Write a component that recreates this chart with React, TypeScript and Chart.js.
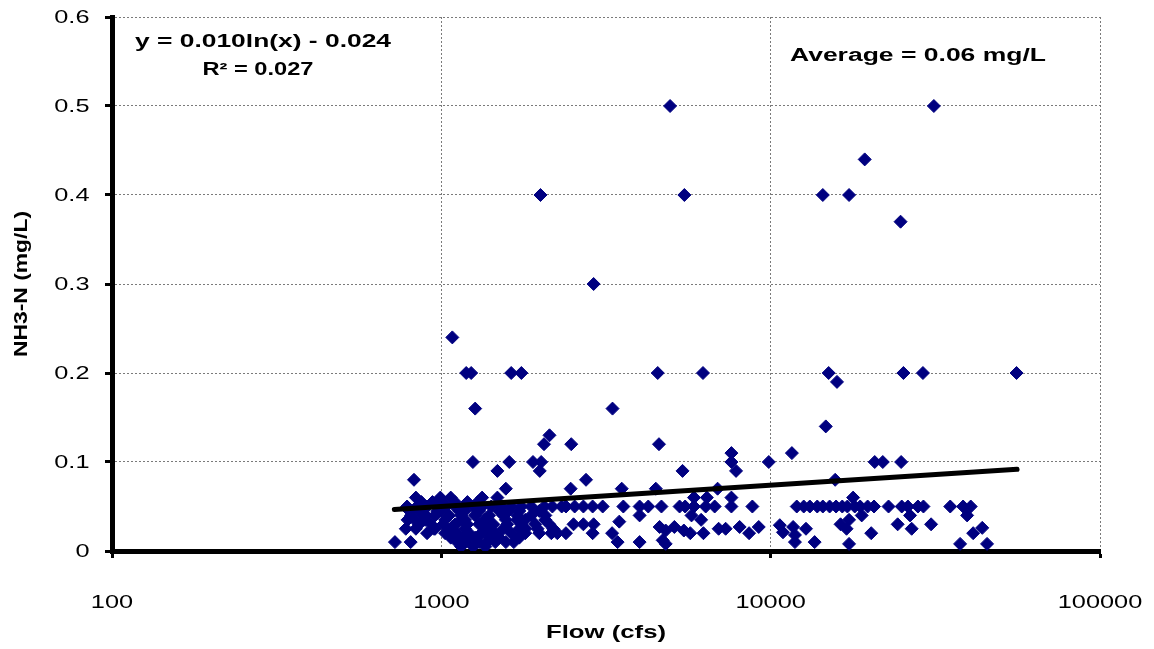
import React, { useEffect, useRef } from "react";
import { Chart, registerables } from "chart.js";

Chart.register(...registerables);

// ---------- data ----------
// high values (>= 0.24)
const flowsHigh = [4950, 31300, 19300, 2000, 5470, 14400, 17300, 24800, 2900, 1080];
const nh3High = [0.5, 0.5, 0.44, 0.4, 0.4, 0.4, 0.4, 0.37, 0.3, 0.24];

// 0.11 - 0.20
const flowsMid = [1190, 1232, 1630, 1750, 4540, 6230, 15000, 15900, 25300, 29000, 55800, 1267, 3310, 14700, 2130, 2050, 2480, 4580, 7600, 11600];
const nh3Mid = [0.2, 0.2, 0.2, 0.2, 0.2, 0.2, 0.2, 0.19, 0.2, 0.2, 0.2, 0.16, 0.16, 0.14, 0.13, 0.12, 0.12, 0.12, 0.11, 0.11];

// 0.07 - 0.10
const flowsUpperLow = [1247, 1608, 1898, 2010, 7600, 9870, 20700, 21900, 24900, 1480, 1990, 5400, 7850, 826, 2750, 15700, 1570, 2470, 3530, 4480, 6900];
const nh3UpperLow = [0.1, 0.1, 0.1, 0.1, 0.1, 0.1, 0.1, 0.1, 0.1, 0.09, 0.09, 0.09, 0.09, 0.08, 0.08, 0.08, 0.07, 0.07, 0.07, 0.07, 0.07];

// 0.06 row
const flowsRow06 = [837, 993, 1068, 1330, 1480, 5850, 6400, 7600, 17800];
const nh3Row06 = [0.06, 0.06, 0.06, 0.06, 0.06, 0.06, 0.06, 0.06, 0.06];

// 0.05 row
const flowsRow05 = [
  787, 844, 905, 971, 1034, 1102, 1173, 1250, 1331, 1418,
  1520, 1631, 1749, 1876, 2055, 2174, 2320, 2390, 2540, 2700,
  2880, 3090, 3570, 4000, 4250, 4660, 5290, 5500, 5850, 6350,
  6760, 7600, 8800, 12000, 12600, 13150, 13850, 14400, 15100, 15800,
  16500, 17100, 18000, 18700, 19700, 20600, 22800, 25000, 26100, 28000,
  29100, 35100, 38400, 40500,
];
const nh3Row05 = [
  0.05, 0.05, 0.05, 0.05, 0.05, 0.05, 0.05, 0.05, 0.05, 0.05,
  0.05, 0.05, 0.05, 0.05, 0.05, 0.05, 0.05, 0.05, 0.05, 0.05,
  0.05, 0.05, 0.05, 0.05, 0.05, 0.05, 0.05, 0.05, 0.05, 0.05,
  0.05, 0.05, 0.05, 0.05, 0.05, 0.05, 0.05, 0.05, 0.05, 0.05,
  0.05, 0.05, 0.05, 0.05, 0.05, 0.05, 0.05, 0.05, 0.05, 0.05,
  0.05, 0.05, 0.05, 0.05,
];

// below 0.05
const flowsLow = [
  800, 1000, 1180, 1600,
  809, 880, 957, 1056, 1149, 1267, 1398, 1542, 1701, 1876, 2069, 4000, 5750, 18900, 26500, 39500,
  830, 1150, 1350, 1700, 6150, 17300,
  3470,
  856, 931, 1013, 1102, 1198, 1303, 1438, 1586, 1749, 1929, 2128, 2520, 2700, 2900, 16300, 24300, 30700,
  10660,
  4600, 5100, 8050, 9200, 11700,
  43900,
  780, 950, 1400, 1800, 6950, 7300, 12800, 17000, 26800,
  4800, 5450,
  10900,
  905, 1027, 1117, 1215, 1322, 1458, 1631, 1798, 1984, 2158, 2250, 2390, 2880, 3300, 5700, 6250, 8600, 20200, 41200,
  11850,
  1215, 1480,
  4700,
  723, 807, 1117, 1303, 1379, 1570, 3430, 4000, 11850, 13600,
  4800, 17300, 37600, 45400,
  1250,
];
const nh3Low = [
  0.045, 0.045, 0.045, 0.045,
  0.04, 0.04, 0.04, 0.04, 0.04, 0.04, 0.04, 0.04, 0.04, 0.04, 0.04, 0.04, 0.04, 0.04, 0.04, 0.04,
  0.035, 0.035, 0.035, 0.035, 0.035, 0.035,
  0.033,
  0.03, 0.03, 0.03, 0.03, 0.03, 0.03, 0.03, 0.03, 0.03, 0.03, 0.03, 0.03, 0.03, 0.03, 0.03, 0.03, 0.03,
  0.029,
  0.027, 0.027, 0.027, 0.027, 0.027,
  0.026,
  0.025, 0.025, 0.025, 0.025, 0.025, 0.025, 0.025, 0.025, 0.025,
  0.023, 0.023,
  0.021,
  0.02, 0.02, 0.02, 0.02, 0.02, 0.02, 0.02, 0.02, 0.02, 0.02, 0.02, 0.02, 0.02, 0.02, 0.02, 0.02, 0.02, 0.02, 0.02,
  0.018,
  0.015, 0.015,
  0.012,
  0.01, 0.01, 0.01, 0.01, 0.01, 0.01, 0.01, 0.01, 0.01, 0.01,
  0.008, 0.008, 0.008, 0.008,
  0.006,
];

// dense cluster between ~800 and ~2200 cfs
const flowsCluster = [
  856, 971, 1133, 1303, 1499, 1725, 1984,
  893, 1027, 1180, 1360, 1570, 1798, 2069,
  837, 957, 1068, 1180, 1360, 1542, 1725, 1960, 2185,
  1068, 1165, 1267, 1398, 1499, 1725,
  1180, 1458, 1660,
  1149, 1250, 1360,
  870, 940, 1010, 1100, 1200, 1290,
  790, 900,
];
const nh3Cluster = [
  0.045, 0.045, 0.045, 0.045, 0.045, 0.045, 0.045,
  0.035, 0.035, 0.035, 0.035, 0.035, 0.035, 0.035,
  0.025, 0.025, 0.025, 0.025, 0.025, 0.025, 0.025, 0.025, 0.025,
  0.015, 0.015, 0.015, 0.015, 0.015, 0.015,
  0.01, 0.01, 0.01,
  0.005, 0.005, 0.005,
  0.055, 0.055, 0.055, 0.055, 0.055, 0.055,
  0.035, 0.04,
];

// logarithmic trend line, read at its two ends
const trendFlow = [720, 56000];
const trendNh3 = [0.0465, 0.0918];

const xTickValues = [100, 1000, 10000, 100000];
const xTickLabels = ["100", "1000", "10000", "100000"];
const yTickValues = [0, 0.1, 0.2, 0.3, 0.4, 0.5, 0.6];
const yTickLabels = ["0", "0.1", "0.2", "0.3", "0.4", "0.5", "0.6"];

const xTitle = "Flow (cfs)";
const yTitle = "NH3-N (mg/L)";
const equationText = "y = 0.010ln(x) - 0.024";
const r2Text = "R² = 0.027";
const averageText = "Average = 0.06 mg/L";

// ---------- drawing ----------
const FONT = '"Liberation Sans", Arial, Helvetica, sans-serif';
const MARKER = "#000080";

type TextOpts = {
  size: number;
  bold?: boolean;
  align: CanvasTextAlign;
  baseline: CanvasTextBaseline;
  sx?: number;
  width?: number;
  rotate?: number;
};

function drawText(ctx: CanvasRenderingContext2D, text: string, x: number, y: number, o: TextOpts) {
  ctx.save();
  ctx.font = `${o.bold ? "bold " : ""}${o.size}px ${FONT}`;
  ctx.fillStyle = "#000";
  ctx.textAlign = o.align;
  ctx.textBaseline = o.baseline;
  const w = ctx.measureText(text).width;
  const sx = o.width ? o.width / w : o.sx ?? 1;
  ctx.translate(x, y);
  if (o.rotate) ctx.rotate(o.rotate);
  ctx.scale(sx, 1);
  ctx.fillText(text, 0, 0);
  ctx.restore();
}

const textPlugin = {
  id: "stretchedText",
  afterDraw(chart: any) {
    const ctx = chart.ctx as CanvasRenderingContext2D;
    const xs = chart.scales.x;
    const ys = chart.scales.y;
    const area = chart.chartArea;
    yTickValues.forEach((v, i) =>
      drawText(ctx, yTickLabels[i], 89.5, ys.getPixelForValue(v) + 1, {
        size: 18.5, sx: 1.37, align: "right", baseline: "middle",
      })
    );
    xTickValues.forEach((v, i) =>
      drawText(ctx, xTickLabels[i], xs.getPixelForValue(v), 603, {
        size: 18.5, sx: 1.37, align: "center", baseline: "middle",
      })
    );
    drawText(ctx, xTitle, (area.left + area.right) / 2, 633, {
      size: 18.5, bold: true, width: 120, align: "center", baseline: "middle",
    });
    drawText(ctx, yTitle, 22, (area.top + area.bottom) / 2, {
      size: 18.5, bold: true, width: 146, align: "center", baseline: "middle", rotate: -Math.PI / 2,
    });
    drawText(ctx, equationText, 263, 46.7, {
      size: 18, bold: true, width: 256, align: "center", baseline: "alphabetic",
    });
    drawText(ctx, r2Text, 258, 75, {
      size: 18, bold: true, width: 111, align: "center", baseline: "alphabetic",
    });
    drawText(ctx, averageText, 918, 61, {
      size: 18, bold: true, width: 256, align: "center", baseline: "alphabetic",
    });
  },
};

function toPoints(xs: number[], ys: number[]) {
  return xs.map((x, i) => ({ x, y: ys[i] }));
}

export default function App() {
  const canvasRef = useRef<HTMLCanvasElement | null>(null);

  useEffect(() => {
    const canvas = canvasRef.current;
    if (!canvas) return;

    const points = [
      ...toPoints(flowsHigh, nh3High),
      ...toPoints(flowsMid, nh3Mid),
      ...toPoints(flowsUpperLow, nh3UpperLow),
      ...toPoints(flowsRow06, nh3Row06),
      ...toPoints(flowsRow05, nh3Row05),
      ...toPoints(flowsLow, nh3Low),
      ...toPoints(flowsCluster, nh3Cluster),
    ];

    const gridCommon = {
      color: "#7a7a7a",
      lineWidth: 1,
      drawTicks: true,
      tickLength: 7,
      tickWidth: 3,
      tickColor: "#000",
    };

    const chart = new Chart(canvas, {
      type: "scatter",
      data: {
        datasets: [
          {
            label: "Trend",
            data: toPoints(trendFlow, trendNh3),
            showLine: true,
            borderColor: "#000",
            borderWidth: 5,
            borderCapStyle: "round",
            pointRadius: 0,
            order: 0,
          } as any,
          {
            label: "NH3-N",
            data: points,
            pointStyle: "rectRot",
            pointRadius: 6.5,
            pointBorderWidth: 1,
            backgroundColor: MARKER,
            borderColor: MARKER,
            order: 1,
          } as any,
        ],
      },
      options: {
        responsive: false,
        animation: false,
        events: [],
        layout: { padding: { left: 0, right: 54, top: 17, bottom: 0 } },
        plugins: {
          legend: { display: false },
          tooltip: { enabled: false },
        },
        scales: {
          x: {
            type: "logarithmic",
            position: "bottom",
            min: 100,
            max: 100000,
            afterBuildTicks: (s: any) => {
              s.ticks = xTickValues.map((v) => ({ value: v }));
            },
            afterFit: (s: any) => {
              s.height = 98;
            },
            ticks: { display: false },
            grid: gridCommon,
            border: { display: true, color: "#000", width: 5, dash: [2, 2] },
          },
          y: {
            type: "linear",
            position: "left",
            min: 0,
            max: 0.6,
            afterBuildTicks: (s: any) => {
              s.ticks = yTickValues.map((v) => ({ value: v }));
            },
            afterFit: (s: any) => {
              s.width = 112;
            },
            ticks: { display: false },
            grid: gridCommon,
            border: { display: true, color: "#000", width: 5, dash: [2, 2] },
          },
        },
      } as any,
      plugins: [textPlugin],
    });

    return () => chart.destroy();
  }, []);

  return (
    <div style={{ position: "absolute", left: 0, top: 0, width: 1154, height: 649, background: "#fff" }}>
      <canvas ref={canvasRef} width={1154} height={649} style={{ display: "block" }} />
    </div>
  );
}
